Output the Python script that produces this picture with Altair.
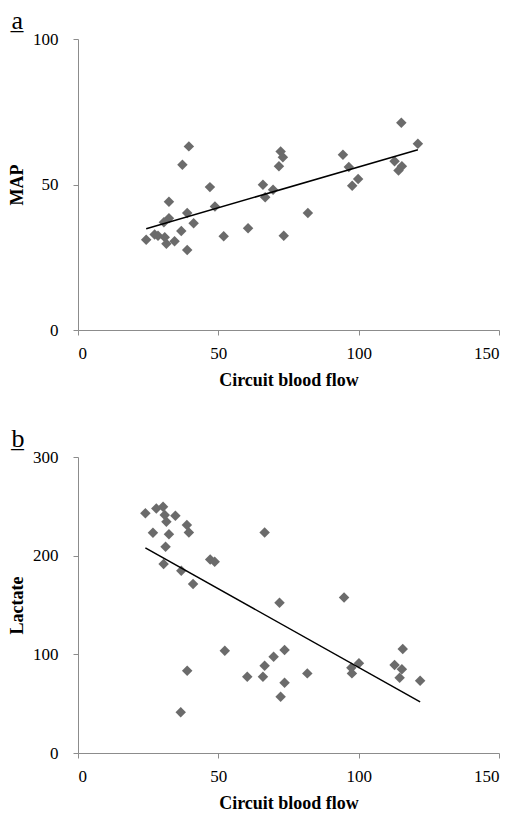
import altair as alt
import pandas as pd

# Panel a: circuit blood flow vs MAP
flow_a = [39.5, 37.2, 47.0, 32.4, 48.8, 38.9, 41.2, 32.4, 30.6, 36.8, 60.6, 51.9,
          24.3, 27.3, 28.5, 30.9, 31.5, 34.4, 38.9, 115.2, 121.1, 72.2, 73.0, 71.6,
          94.4, 96.5, 112.8, 115.4, 114.2, 99.8, 97.7, 65.9, 69.5, 66.7, 81.9, 73.3]
map_a = [63.1, 56.8, 49.1, 44.1, 42.4, 40.2, 36.7, 38.4, 37.0, 34.0, 35.0, 32.2,
         31.0, 32.8, 32.4, 31.9, 29.6, 30.5, 27.5, 71.2, 64.0, 61.3, 59.4, 56.3,
         60.2, 56.0, 58.0, 56.3, 54.8, 51.9, 49.6, 49.9, 48.2, 45.6, 40.2, 32.4]

# Panel b: circuit blood flow vs lactate
flow_b = [24.0, 27.9, 30.3, 30.9, 31.5, 34.7, 38.8, 39.5, 26.7, 32.4, 31.2, 30.5,
          36.8, 41.0, 47.1, 48.7, 52.3, 38.9, 36.6, 60.3, 66.5, 71.8, 94.8, 65.9,
          66.5, 69.7, 73.6, 73.6, 72.2, 81.7, 97.4, 100.1, 97.6, 115.7, 112.8, 115.4,
          114.6, 121.9]
lactate_b = [242.9, 247.9, 249.5, 241.1, 234.3, 240.4, 231.0, 223.6, 223.2, 221.6, 209.0, 191.5,
             184.7, 171.2, 196.2, 193.8, 103.6, 83.4, 41.2, 77.3, 223.6, 152.3, 157.7, 77.3,
             88.5, 97.6, 104.4, 71.2, 57.0, 80.7, 86.4, 90.9, 80.7, 105.4, 89.2, 84.8,
             76.3, 73.3]

x_ticks = [0, 50, 100, 150]
map_ticks = [0, 50, 100]
lactate_ticks = [0, 100, 200, 300]

FONT = "Liberation Serif"
POINT = "#6b6b6b"
AXIS_GRAY = "#8c8c8c"


def axis(values, label_pad, title_pad):
    return alt.Axis(values=values, grid=False, domainColor=AXIS_GRAY, tickColor=AXIS_GRAY,
                    tickSize=5, labelFont=FONT, labelFontSize=17, labelColor="black",
                    titleFont=FONT, titleFontSize=18, titleFontWeight="bold", titleColor="black",
                    labelPadding=label_pad, titlePadding=title_pad)


def panel(label, xs, ys, ytitle, ymax, yticks, h):
    df = pd.DataFrame({"flow": xs, "val": ys})
    x = alt.X("flow:Q", title="Circuit blood flow",
              scale=alt.Scale(domain=[0, 150], nice=False),
              axis=axis(x_ticks, 10, 10))
    y = alt.Y("val:Q", title=ytitle,
              scale=alt.Scale(domain=[0, ymax], nice=False),
              axis=axis(yticks, 15, 6))
    pts = alt.Chart(df).mark_point(shape="diamond", filled=True, size=110,
                                   color=POINT, opacity=1).encode(x=x, y=y)
    line = alt.Chart(df).transform_regression("flow", "val").mark_line(
        color="black", strokeWidth=1.5).encode(x=x, y=y)
    return alt.layer(pts, line).properties(
        width=421, height=h,
        title=alt.TitleParams(label, anchor="start", frame="bounds", font=FONT,
                              fontSize=26, fontWeight="normal", color="black",
                              offset=-4, dx=3))


a = panel("a\u0332", flow_a, map_a, "MAP", 100, map_ticks, 291)
b = panel("b\u0332", flow_b, lactate_b, "Lactate", 300, lactate_ticks, 296)

chart = alt.vconcat(a, b, spacing=37).properties(
    padding={"left": 0, "top": 0, "right": 0, "bottom": 0}
).configure_view(stroke=None)

chart.save("out.html", embed_options={"renderer": "svg", "actions": False})
